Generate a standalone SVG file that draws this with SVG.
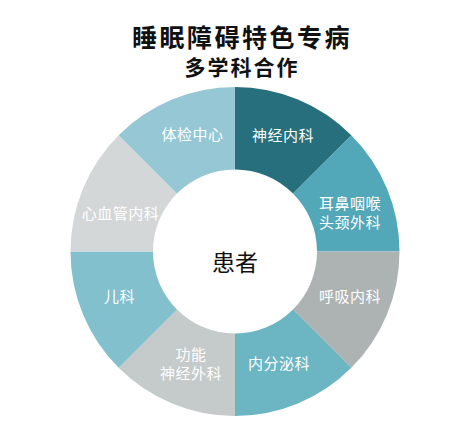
<svg xmlns="http://www.w3.org/2000/svg" width="470" height="424" viewBox="0 0 470 424">
<style>
text{font-family:"Noto Sans CJK SC","Noto Sans",sans-serif;text-anchor:middle}
.title{font-size:25px;font-weight:bold;fill:#111;letter-spacing:2.5px}
.sub{font-size:21px;font-weight:bold;fill:#111;letter-spacing:2px}
.lbl{font-size:15px;fill:#fff;letter-spacing:0.5px}
.ctr{font-size:23px;fill:#111}
</style>
<rect width="470" height="424" fill="#fff"/>
<text class="title" x="242" y="47">睡眠障碍特色专病</text>
<text class="sub" x="242" y="75">多学科合作</text>
<g id="n-shenjingneike">
<path d="M235 87A164.5 164.5 0 0 1 351.32 135.18L292.98 193.52A82 82 0 0 0 235 169.5Z" fill="#276f7d"/>
<text class="lbl" x="283" y="141">神经内科</text>
</g>
<g id="n-erbi">
<path d="M351.32 135.18A164.5 164.5 0 0 1 399.5 251.5L317 251.5A82 82 0 0 0 292.98 193.52Z" fill="#52a7b9"/>
<text class="lbl" x="350" y="209">耳鼻咽喉</text>
<text class="lbl" x="350" y="227.5">头颈外科</text>
</g>
<g id="n-huxi">
<path d="M399.5 251.5A164.5 164.5 0 0 1 351.32 367.82L292.98 309.48A82 82 0 0 0 317 251.5Z" fill="#adb2b3"/>
<text class="lbl" x="350" y="301.5">呼吸内科</text>
</g>
<g id="n-neifenmi">
<path d="M351.32 367.82A164.5 164.5 0 0 1 235 416L235 333.5A82 82 0 0 0 292.98 309.48Z" fill="#6cb6c4"/>
<text class="lbl" x="279" y="368.5">内分泌科</text>
</g>
<g id="n-gongneng">
<path d="M235 416A164.5 164.5 0 0 1 118.68 367.82L177.02 309.48A82 82 0 0 0 235 333.5Z" fill="#c5caca"/>
<text class="lbl" x="191" y="359.5">功能</text>
<text class="lbl" x="191" y="379">神经外科</text>
</g>
<g id="n-erke">
<path d="M118.68 367.82A164.5 164.5 0 0 1 70.5 251.5L153 251.5A82 82 0 0 0 177.02 309.48Z" fill="#82c0cd"/>
<text class="lbl" x="119.5" y="302">儿科</text>
</g>
<g id="n-xinxueguan">
<path d="M70.5 251.5A164.5 164.5 0 0 1 118.68 135.18L177.02 193.52A82 82 0 0 0 153 251.5Z" fill="#d4d7d8"/>
<text class="lbl" x="120.5" y="219">心血管内科</text>
</g>
<g id="n-tijian">
<path d="M118.68 135.18A164.5 164.5 0 0 1 235 87L235 169.5A82 82 0 0 0 177.02 193.52Z" fill="#96c7d5"/>
<text class="lbl" x="192.5" y="139.5">体检中心</text>
</g>
<g id="n-huanzhe">
<text class="ctr" x="235" y="271">患者</text>
</g>
<g id="connectors"/>
</svg>
